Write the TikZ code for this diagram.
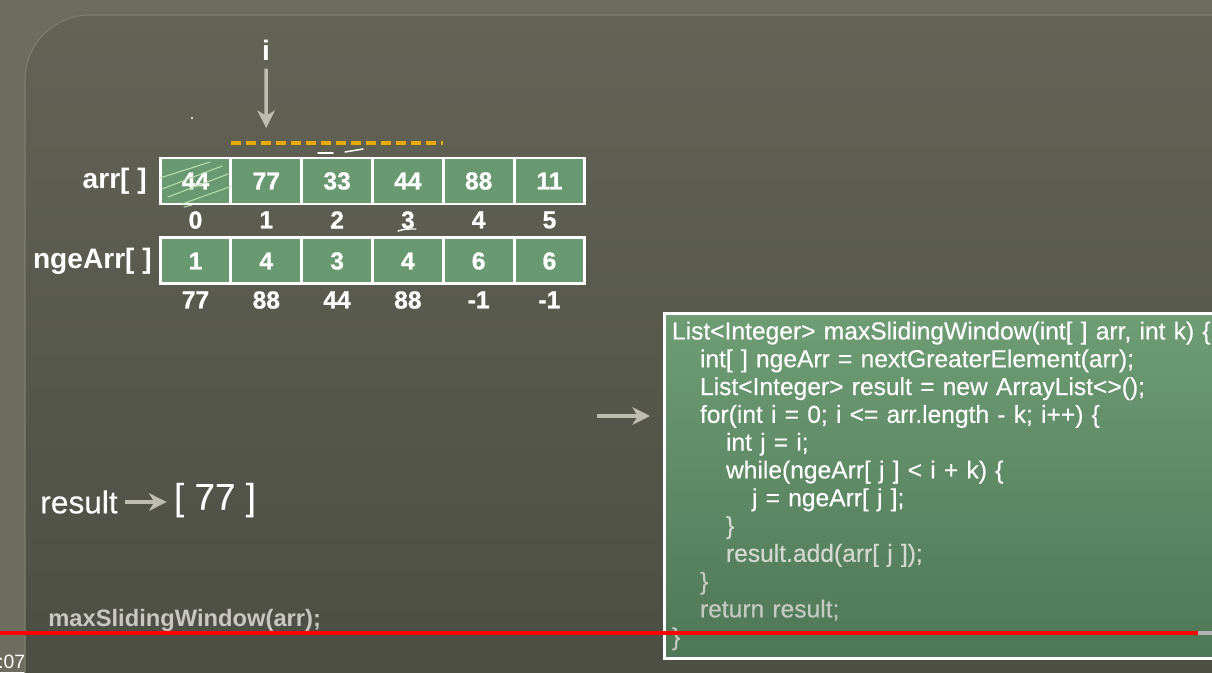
\documentclass[tikz,border=0pt]{standalone}
\usepackage{fontspec}
\setmainfont{Liberation Sans}
\newfontfamily\codefont{Liberation Sans}[FakeBold=0.3]
\newfontfamily\numfont{Liberation Sans Bold}[FakeBold=0.9]
\usetikzlibrary{positioning,arrows.meta}

\definecolor{outerbg}{HTML}{6C6D5E}
\definecolor{paneltop}{HTML}{636456}
\definecolor{panelbot}{HTML}{4C4D43}
\definecolor{paneledge}{HTML}{7E7F70}
\definecolor{cellgreen}{HTML}{699971}
\definecolor{codetop}{HTML}{6E9D75}
\definecolor{codebot}{HTML}{4E7756}
\definecolor{ptrgrey}{HTML}{BEBEB0}
\definecolor{winorange}{HTML}{E9A800}
\definecolor{hatchgreen}{HTML}{B9DDB0}
\definecolor{dimtext}{HTML}{C8C8C0}
\definecolor{codefade}{HTML}{D3D8D0}
\definecolor{codedim}{HTML}{C4CAC1}

\tikzset{
  cell/.style={draw=white, fill=cellgreen, line width=1.7pt, outer sep=0pt,
    minimum width=1.416cm, minimum height=0.92cm, inner sep=0pt,
    text=white, font=\fontsize{14}{14}\numfont},
  under/.style={text=white, inner sep=0pt, font=\fontsize{14}{14}\numfont},
  lbl/.style={text=white, inner sep=0pt, font=\fontsize{16}{16}\selectfont\bfseries},
  ptr/.style={draw=ptrgrey, line width=2pt, -{Stealth[length=10pt,width=10pt,inset=3pt]}},
  hatch/.style={draw=hatchgreen, line width=0.6pt, line cap=round},
  scribble/.style={draw=white, line width=0.8pt, line cap=round},
  codebox/.style={draw=white, line width=1.7pt, top color=codetop, bottom color=codebot,
    minimum width=11.6cm, minimum height=6.9cm, text width=11.3cm, align=left,
    inner xsep=0.13cm, text=white, font=\fontsize{14}{15.82}\codefont},
}

\newcommand{\ind}[1]{\hspace*{#1}}

\begin{document}
\begin{tikzpicture}[x=0.02cm, y=-0.02cm]
  \clip (0,0) rectangle (1212,672);

  % slide background
  \fill[outerbg] (0,0) rectangle (1212,672);
  \shade[top color=paneltop, bottom color=panelbot]
    (25,700) [rounded corners=1.3cm] -- (25,15) [sharp corners] -- (1300,15) -- (1300,700) -- cycle;
  \draw[paneledge, line width=0.6pt]
    (25,700) [rounded corners=1.3cm] -- (25,15) [sharp corners] -- (1300,15);

  % arrays
  \node[cell] (arr0) at (195.5,181) {44};
  \node[cell, right=0pt of arr0] (arr1) {77};
  \node[cell, right=0pt of arr1] (arr2) {33};
  \node[cell, right=0pt of arr2] (arr3) {44};
  \node[cell, right=0pt of arr3] (arr4) {88};
  \node[cell, right=0pt of arr4] (arr5) {11};

  \node[cell, below=0.68cm of arr0] (nge0) {1};
  \node[cell, right=0pt of nge0] (nge1) {4};
  \node[cell, right=0pt of nge1] (nge2) {3};
  \node[cell, right=0pt of nge2] (nge3) {4};
  \node[cell, right=0pt of nge3] (nge4) {6};
  \node[cell, right=0pt of nge4] (nge5) {6};

  \foreach \i in {0,...,5}
    \node[under, below=0.14cm of arr\i] (idx\i) {\i};
  \foreach \v [count=\i from 0] in {77,88,44,88,-1,-1}
    \node[under, below=0.14cm of nge\i] (val\i) {\v};

  \node[lbl, left=0.26cm of arr0] (arrlbl) {arr[ ]};
  \node[lbl, left=0.16cm of nge0] (ngelbl) {ngeArr[ ]};

  % hand marks: done cell, window, pointer
  \begin{scope}
    \clip (arr0.south west) rectangle (arr0.north east);
    \draw[hatch] (160,178) -- (210,162);
    \draw[hatch] (162,189) -- (222,166);
    \draw[hatch] (168,197) -- (228,174);
    \draw[hatch] (182,204) -- (232,186);
  \end{scope}
  \draw[hatch] (184,207) -- (192,205);
  \draw[winorange, line width=2.2pt, dash pattern=on 0.2cm off 0.1cm]
    ([yshift=0.3cm]arr1.north west) -- ([yshift=0.3cm]arr3.north east);
  \draw[scribble] (318,153) -- (333,153);
  \draw[scribble] (345,152) -- (363,149);
  \draw[scribble] (398,231) .. controls (405,229) .. (416,229);
  \fill[white] (192,118) circle (0.6pt);

  \node[lbl] (iptr) at (266,50) {i};
  \draw[ptr, shorten <=0.16cm, shorten >=0.6cm] (iptr.south) -- (arr1.north);

  % result
  \node[text=white, inner sep=0pt, anchor=west, font=\fontsize{18}{18}\codefont] (reslbl) at (40,502) {result};
  \node[text=white, inner sep=0pt, font=\fontsize{21}{21}\codefont] (resval) at (215,500) {[ 77 ]};
  \draw[ptr, shorten <=0.14cm, shorten >=0.14cm] (reslbl.east) -- (resval.west |- reslbl.east);

  \node[text=dimtext, inner sep=0pt, anchor=west, font=\fontsize{13.5}{13.5}\selectfont\bfseries] (call) at (48,620) {maxSlidingWindow(arr);};

  % code
  \node[codebox, anchor=north west] (code) at (663,312) {%
    List<Integer> maxSlidingWindow(int[ ] arr, int k) \{\\
    \ind{0.56cm}int[ ] ngeArr = nextGreaterElement(arr);\\
    \ind{0.56cm}List<Integer> result = new ArrayList<>();\\
    \ind{0.56cm}for(int i = 0; i <= arr.length - k; i++) \{\\
    \ind{1.08cm}int j = i;\\
    \ind{1.08cm}while(ngeArr[ j ] < i + k) \{\\
    \ind{1.6cm}j = ngeArr[ j ];\\
    \ind{1.08cm}\textcolor{codefade}{\}}\\
    \ind{1.08cm}\textcolor{codefade}{result.add(arr[ j ]);}\\
    \ind{0.56cm}\textcolor{codedim}{\}}\\
    \ind{0.56cm}\textcolor{codedim}{return result;}\\
    \textcolor{codedim}{\}}};

  \coordinate (codetail) at (597,416);
  \draw[ptr, shorten >=0.26cm] (codetail) -- (codetail -| code.west);

  % player overlay
  \draw[red, line width=2.3pt] (0,633) -- (1198,633);
  \draw[gray!60, line width=2.3pt] (1198,633) -- (1212,633);
  \node[text=white, inner sep=0pt, anchor=west, font=\fontsize{11}{11}\selectfont] (clock) at (-2,662) {:07};
\end{tikzpicture}
\end{document}
